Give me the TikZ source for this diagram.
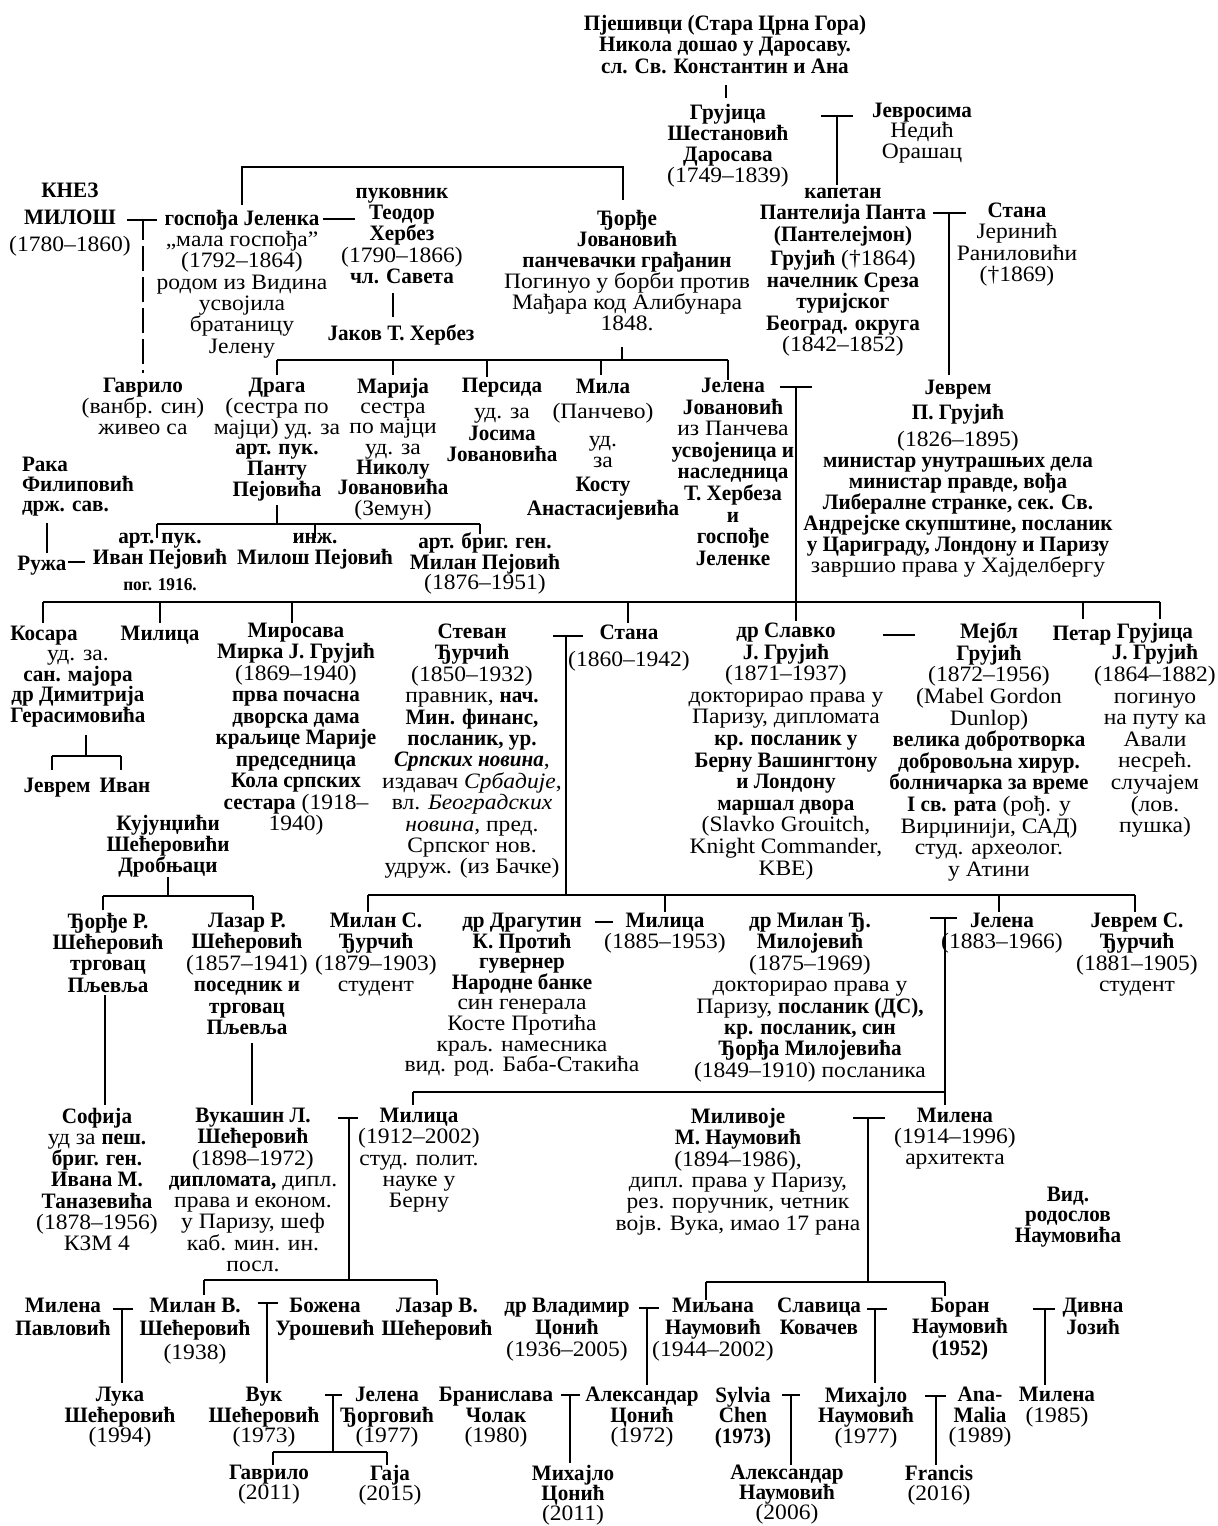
\documentclass[tikz,border=0pt]{standalone}
\usepackage{fontspec}
\setmainfont{Liberation Serif}[
  Script=Cyrillic, Language=Serbian,
  UprightFeatures={FakeStretch=1.07},
  BoldFeatures={FakeStretch=0.96},
  ItalicFeatures={FakeStretch=1.07},
  BoldItalicFeatures={FakeStretch=0.96}]
\newcommand\fsz[1]{\fontsize{22}{#1}\selectfont\lineskiplimit=-30pt\relax}
\tikzset{
  P/.style={anchor=north, yshift=15pt, inner sep=0pt, outer sep=0pt,
    align=center, font=\fsz{21.5},
    execute at begin node={\rule{0pt}{17pt}}},
  B/.style={P, font=\fsz{21.5}\bfseries},
  PL/.style={P, font=\fsz{#1}},
  BL/.style={P, font=\fsz{#1}\bfseries},
  L/.style={line width=1.1pt},
}
\begin{document}
\begin{tikzpicture}[x=1pt,y=-1pt]
\useasboundingbox (0,0) rectangle (1218,1526);
\fill[white] (0,0) rectangle (1218,1526);

% ---------- nodes ----------
\node[B] (title) at (725,30) {Пјешивци (Стара Црна Гора)\\Никола дошао у Даросаву.\\сл. Св. Константин и Ана};
\node[PL=21] (gruj) at (728,119) {\textbf{Грујица}\\\textbf{Шестановић}\\\textbf{Даросава}\\(1749–1839)};
\node[PL=20.5] (jevros) at (922,118) {\textbf{Јевросима}\\Недић\\Орашац};
\node[P] (pantelija) at (843,203) {\textbf{капетан}\\\textbf{Пантелија Панта}\\\textbf{(Пантелејмон)}\\[3pt]\textbf{Грујић} (†1864)\\\textbf{начелник Среза}\\\textbf{туријског}\\\textbf{Београд. округа}\\(1842–1852)};
\node[PL=21.3] (stana1) at (1017,218) {\textbf{Стана}\\Јеринић\\Раниловићи\\(†1869)};
\node[PL=27] (knez) at (70,198) {\textbf{КНЕЗ}\\\textbf{МИЛОШ}\\(1780–1860)};
\node[PL=21.3] (jelenka) at (242,225) {\textbf{госпођа Јеленка}\\„мала госпођа”\\(1792–1864)\\родом из Видина\\усвојила\\братаницу\\Јелену};
\node[PL=21.3] (herbez) at (402,203) {\textbf{пуковник}\\\textbf{Теодор}\\\textbf{Хербез}\\(1790–1866)\\\textbf{чл. Савета}};
\node[B] (jakov) at (401,338) {Јаков Т. Хербез};
\node[PL=21] (djordje) at (627,225) {\textbf{Ђорђе}\\\textbf{Јовановић}\\\textbf{панчевачки грађанин}\\Погинуо у борби против\\Мађара код Алибунара\\1848.};
\node[PL=21] (gavrilo) at (143,393) {\textbf{Гаврило}\\(ванбр. син)\\живео са};
\node[PL=20.8] (draga) at (277,393) {\textbf{Драга}\\(сестра по\\мајци) уд. за\\\textbf{арт. пук.}\\\textbf{Панту}\\\textbf{Пејовића}};
\node[PL=20.3] (marija) at (393,393) {\textbf{Марија}\\сестра\\по мајци\\уд. за\\\textbf{Николу}\\\textbf{Јовановића}\\(Земун)};
\node[PL=21.5] (persida) at (502,393) {\textbf{Персида}\\[5pt]уд. за\\\textbf{Јосима}\\\textbf{Јовановића}};
\node[PL=21] (mila) at (603,394) {\textbf{Мила}\\[4pt](Панчево)\\[7pt]уд.\\за\\[3pt]\textbf{Косту}\\[3pt]\textbf{Анастасијевића}};
\node[PL=21.6] (jelenaJ) at (733,393) {\textbf{Јелена}\\\textbf{Јовановић}\\из Панчева\\\textbf{усвојеница и}\\\textbf{наследница}\\\textbf{Т. Хербеза}\\\textbf{и}\\\textbf{госпође}\\\textbf{Јеленке}};
\node[PL=21] (jevrem) at (958,395) {\textbf{Јеврем}\\[4pt]\textbf{П. Грујић}\\[6pt](1826–1895)\\\textbf{министар унутрашњих дела}\\\textbf{министар правде, вођа}\\\textbf{Либералне странке, сек. Св.}\\\textbf{Андрејске скупштине, посланик}\\\textbf{у Цариграду, Лондону и Паризу}\\завршио права у Хајделбергу};
\node[BL=20, anchor=north west, align=left] (raka) at (22,472) {Рака\\Филиповић\\држ. сав.};
\node[B] (ruza) at (42,568) {Ружа};
\node[BL=21] (ivan) at (160,548) {арт. пук.\\Иван Пејовић};
\node[P, font=\fontsize{18}{19}\selectfont\bfseries] (ivanpog) at (160,588) {пог. 1916.};
\node[BL=21] (milosP) at (315,548) {инж.\\Милош Пејовић};
\node[PL=20.5] (milanP) at (485,548) {\textbf{арт. бриг. ген.}\\\textbf{Милан Пејовић}\\(1876–1951)};

\node[B] (kosara) at (44,638) {Косара};
\node[PL=20.7] (kosaraD) at (78,665) {уд. за.\\\textbf{сан. мајора}\\\textbf{др Димитрија}\\\textbf{Герасимовића}};
\node[B] (jevremG) at (57,790) {Јеврем};
\node[B] (ivanG) at (125,790) {Иван};
\node[B] (milica1) at (160,638) {Милица};
\node[PL=21.5] (mirosava) at (296,638) {\textbf{Миросава}\\\textbf{Мирка Ј. Грујић}\\(1869–1940)\\\textbf{прва почасна}\\\textbf{дворска дама}\\\textbf{краљице Марије}\\\textbf{председница}\\\textbf{Кола српских}\\\textbf{сестара} (1918–\\1940)};
\node[PL=21.4] (stevan) at (472,639) {\textbf{Стеван}\\\textbf{Ђурчић}\\(1850–1932)\\правник, \textbf{нач.}\\\textbf{Мин. финанс,}\\\textbf{посланик, ур.}\\\textbf{\textit{Српских новина}},\\издавач \textit{Србадије},\\вл. \textit{Београдских}\\\textit{новина}, пред.\\Српског нов.\\удруж. (из Бачке)};
\node[PL=27] (stana2) at (629,640) {\textbf{Стана}\\(1860–1942)};
\node[PL=21.6] (slavko) at (786,638) {\textbf{др Славко}\\\textbf{Ј. Грујић}\\(1871–1937)\\докторирао права у\\Паризу, дипломата\\\textbf{кр. посланик у}\\\textbf{Берну Вашингтону}\\\textbf{и Лондону}\\\textbf{маршал двора}\\(Slavko Grouitch,\\Knight Commander,\\KBE)};
\node[PL=21.6] (mabel) at (989,638) {\textbf{Мејбл}\\\textbf{Грујић}\\(1872–1956)\\(Mabel Gordon\\Dunlop)\\\textbf{велика добротворка}\\\textbf{добровољна хирур.}\\\textbf{болничарка за време}\\\textbf{I св. рата} (рођ. у\\Вирџинији, САД)\\студ. археолог.\\у Атини};
\node[B] (petar) at (1082,638) {Петар};
\node[PL=21.6] (grujica2) at (1155,638) {\textbf{Грујица}\\\textbf{Ј. Грујић}\\(1864–1882)\\погинуо\\на путу ка\\Авали\\несрећ.\\случајем\\(лов.\\пушка)};

\node[BL=21] (kujund) at (168,830) {Кујунџићи\\Шећеровићи\\Дробњаци};
\node[BL=21.3] (djordjeS) at (108,928) {Ђорђе Р.\\Шећеровић\\трговац\\Пљевља};
\node[PL=21.4] (lazarR) at (247,928) {\textbf{Лазар Р.}\\\textbf{Шећеровић}\\(1857–1941)\\\textbf{поседник и}\\\textbf{трговац}\\\textbf{Пљевља}};
\node[PL=21.3] (milanS) at (376,928) {\textbf{Милан С.}\\\textbf{Ђурчић}\\(1879–1903)\\студент};
\node[PL=20.6] (dragutin) at (522,928) {\textbf{др Драгутин}\\\textbf{К. Протић}\\\textbf{гувернер}\\\textbf{Народне банке}\\син генерала\\Косте Протића\\краљ. намесника\\вид. род. Баба-Стакића};
\node[PL=21] (milica2) at (665,928) {\textbf{Милица}\\(1885–1953)};
\node[PL=21.4] (milanDj) at (810,928) {\textbf{др Милан Ђ.}\\\textbf{Милојевић}\\(1875–1969)\\докторирао права у\\Паризу, \textbf{посланик (ДС),}\\\textbf{кр. посланик, син}\\\textbf{Ђорђа Милојевића}\\(1849–1910) посланика};
\node[PL=21] (jelena2) at (1002,928) {\textbf{Јелена}\\(1883–1966)};
\node[PL=21.3] (jevremS) at (1137,928) {\textbf{Јеврем С.}\\\textbf{Ђурчић}\\(1881–1905)\\студент};

\node[PL=21.2] (sofija) at (97,1123) {\textbf{Софија}\\уд за \textbf{пеш.}\\\textbf{бриг. ген.}\\\textbf{Ивана М.}\\\textbf{Таназевића}\\(1878–1956)\\КЗМ 4};
\node[PL=21.3] (vukasin) at (253,1123) {\textbf{Вукашин Л.}\\\textbf{Шећеровић}\\(1898–1972)\\\textbf{дипломата,} дипл.\\права и економ.\\у Паризу, шеф\\каб. мин. ин.\\посл.};
\node[PL=21.3] (milica3) at (419,1123) {\textbf{Милица}\\(1912–2002)\\студ. полит.\\науке у\\Берну};
\node[PL=21.4] (milivoje) at (738,1123) {\textbf{Миливоје}\\\textbf{М. Наумовић}\\(1894–1986),\\дипл. права у Паризу,\\рез. поручник, четник\\војв. Вука, имао 17 рана};
\node[PL=21] (milena2) at (955,1123) {\textbf{Милена}\\(1914–1996)\\архитекта};
\node[BL=20.5] (vid) at (1068,1202) {Вид.\\родослов\\Наумовића};

\node[BL=23.5] (milenaP) at (63,1313) {Милена\\Павловић};
\node[PL=23.5] (milanV) at (195,1313) {\textbf{Милан В.}\\\textbf{Шећеровић}\\(1938)};
\node[BL=23.5] (bozena) at (325,1313) {Божена\\Урошевић};
\node[BL=23.5] (lazarV) at (437,1313) {Лазар В.\\Шећеровић};
\node[PL=22] (vladimir) at (567,1313) {\textbf{др Владимир}\\\textbf{Цонић}\\(1936–2005)};
\node[PL=22] (miljana) at (713,1313) {\textbf{Миљана}\\\textbf{Наумовић}\\(1944–2002)};
\node[BL=22] (slavica) at (819,1313) {Славица\\Ковачев};
\node[BL=21.5] (boran) at (960,1313) {Боран\\Наумовић\\(1952)};
\node[BL=22] (divna) at (1093,1313) {Дивна\\Јозић};

\node[PL=20.7] (luka) at (120,1402) {\textbf{Лука}\\\textbf{Шећеровић}\\(1994)};
\node[PL=20.7] (vuk) at (264,1402) {\textbf{Вук}\\\textbf{Шећеровић}\\(1973)};
\node[PL=20.7] (jelenaDj) at (387,1402) {\textbf{Јелена}\\\textbf{Ђорговић}\\(1977)};
\node[PL=20.7] (branislava) at (496,1402) {\textbf{Бранислава}\\\textbf{Чолак}\\(1980)};
\node[PL=20.7] (aleksC) at (642,1402) {\textbf{Александар}\\\textbf{Цонић}\\(1972)};
\node[BL=20.7] (sylvia) at (743,1402) {Sylvia\\Chen\\(1973)};
\node[PL=20.7] (mihajloN) at (866,1402) {\textbf{Михајло}\\\textbf{Наумовић}\\(1977)};
\node[PL=20.7] (anamalia) at (980,1402) {\textbf{Ana-}\\\textbf{Malia}\\(1989)};
\node[PL=20.7] (milena85) at (1057,1402) {\textbf{Милена}\\(1985)};

\node[PL=20] (gavrilo2) at (269,1480) {\textbf{Гаврило}\\(2011)};
\node[PL=20] (gaja) at (390,1480) {\textbf{Гаја}\\(2015)};
\node[PL=20] (mihajloC) at (573,1480) {\textbf{Михајло}\\\textbf{Цонић}\\(2011)};
\node[PL=20] (aleksN) at (787,1480) {\textbf{Александар}\\\textbf{Наумовић}\\(2006)};
\node[PL=20] (francis) at (939,1480) {\textbf{Francis}\\(2016)};

% ---------- connectors ----------
\draw[L] (726,85) -- (726,98);
\draw[L] (821,116) -- (853,116) (837,116) -- (837,185);
\draw[L] (933,213) -- (966,213) (949,213) -- (949,375);
\draw[L] (127,220) -- (157,220);
\draw[L, dash pattern=on 25pt off 6pt, dash phase=5pt] (143,220) -- (143,373);
\draw[L] (323,219) -- (355,219);
\draw[L] (242,205) -- (242,167) -- (623,167) -- (623,200);
\draw[L] (393,293) -- (393,317);
\draw[L] (622,347) -- (622,360) (277,360) -- (728,360);
\draw[L] (277,360) -- (277,375) (393,360) -- (393,375) (487,360) -- (487,377) (601,360) -- (601,375) (728,360) -- (728,380);
\draw[L] (780,387) -- (812,387) (796,387) -- (796,621);
\draw[L] (277,505) -- (277,524) (157,524) -- (480,524) (157,524) -- (157,538) (315,524) -- (315,538) (480,524) -- (480,534);
\draw[L] (47,523) -- (47,553) (68,562) -- (85,562);
\draw[L] (43,602) -- (1160,602);
\draw[L] (43,602) -- (43,623) (160,602) -- (160,623) (292,602) -- (292,623) (628,602) -- (628,623) (1083,602) -- (1083,619) (1160,602) -- (1160,619);
\draw[L] (883,635) -- (915,635);
\draw[L] (553,636) -- (583,636) (566,636) -- (566,895) (368,895) -- (1135,895);
\draw[L] (368,895) -- (368,912) (665,895) -- (665,912) (999,895) -- (999,912) (1135,895) -- (1135,912);
\draw[L] (86,735) -- (86,756) (52,756) -- (121,756) (52,756) -- (52,770) (121,756) -- (121,770);
\draw[L] (168,877) -- (168,896) (103,896) -- (253,896) (103,896) -- (103,910) (253,896) -- (253,910);
\draw[L] (595,922) -- (613,922);
\draw[L] (930,918) -- (957,918) (945,918) -- (945,1105) (413,1092) -- (945,1092) (413,1092) -- (413,1105);
\draw[L] (105,995) -- (105,1105);
\draw[L] (252,1043) -- (252,1105);
\draw[L] (338,1118) -- (358,1118) (349,1118) -- (349,1280) (204,1280) -- (437,1280) (204,1280) -- (204,1295) (437,1280) -- (437,1295);
\draw[L] (853,1118) -- (885,1118) (868,1118) -- (868,1282) (706,1282) -- (945,1282) (706,1282) -- (706,1300) (945,1282) -- (945,1296);
\draw[L] (113,1309) -- (133,1309) (122,1309) -- (122,1383);
\draw[L] (258,1303) -- (278,1303) (267,1303) -- (267,1383);
\draw[L] (639,1308) -- (659,1308) (647,1308) -- (647,1385);
\draw[L] (867,1309) -- (887,1309) (875,1309) -- (875,1383);
\draw[L] (1033,1309) -- (1055,1309) (1045,1309) -- (1045,1385);
\draw[L] (325,1395) -- (342,1395) (333,1395) -- (333,1452) (273,1452) -- (387,1452) (273,1452) -- (273,1465) (387,1452) -- (387,1465);
\draw[L] (561,1395) -- (580,1395) (570,1395) -- (570,1463);
\draw[L] (782,1395) -- (800,1395) (791,1395) -- (791,1465);
\draw[L] (925,1396) -- (946,1396) (936,1396) -- (936,1465);
\end{tikzpicture}
\end{document}
